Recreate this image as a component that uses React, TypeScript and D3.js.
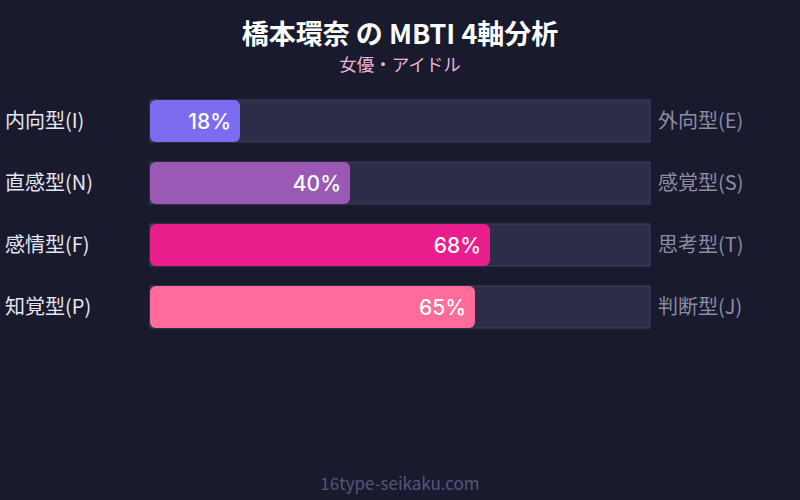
import React, { useEffect, useRef } from "react";
import * as d3 from "d3";

const leftLabels = ["内向型(I)", "直感型(N)", "感情型(F)", "知覚型(P)"];
const rightLabels = ["外向型(E)", "感覚型(S)", "思考型(T)", "判断型(J)"];
const values = [18, 40, 68, 65];
const barColors = ["#7b6cf0", "#9b59b6", "#e91e8c", "#ff6b9a"];

const width = 800;
const height = 500;
const font = "'Noto Sans CJK JP', sans-serif";
const numFont = "Inter, sans-serif";

const App: React.FC = () => {
  const svgRef = useRef<SVGSVGElement | null>(null);

  useEffect(() => {
    const svg = d3.select(svgRef.current);
    svg.selectAll("*").remove();

    svg
      .append("rect")
      .attr("width", width)
      .attr("height", height)
      .attr("fill", "#1a1a2e");

    svg
      .append("text")
      .attr("x", width / 2)
      .attr("y", 44)
      .attr("text-anchor", "middle")
      .attr("fill", "#ffffff")
      .attr("font-size", 27)
      .attr("font-weight", "bold")
      .attr("font-family", font)
      .text("橋本環奈 の MBTI 4軸分析");

    svg
      .append("text")
      .attr("x", width / 2)
      .attr("y", 71)
      .attr("text-anchor", "middle")
      .attr("fill", "#e8b4d8")
      .attr("font-size", 17.5)
      .attr("font-family", font)
      .text("女優・アイドル");

    const x = d3.scaleLinear().domain([0, 100]).range([150, 650]);
    const y = d3
      .scaleBand()
      .domain(leftLabels)
      .range([100, 328])
      .paddingInner(20 / 62)
      .paddingOuter(0);

    const rows = svg
      .selectAll(".row")
      .data(leftLabels)
      .enter()
      .append("g")
      .attr("class", "row");

    // track
    rows
      .append("rect")
      .attr("x", x(0))
      .attr("y", (d) => y(d) as number)
      .attr("width", x(100) - x(0))
      .attr("height", y.bandwidth())
      .attr("fill", "#2d2d4a")
      .attr("stroke", "#40405e")
      .attr("stroke-width", 1);

    // value bar
    rows
      .append("rect")
      .attr("x", x(0))
      .attr("y", (d) => y(d) as number)
      .attr("width", (d, i) => x(values[i]) - x(0))
      .attr("height", y.bandwidth())
      .attr("rx", 6)
      .attr("fill", (d, i) => barColors[i]);

    rows
      .append("text")
      .attr("x", (d, i) => x(values[i]) - 9)
      .attr("y", (d) => (y(d) as number) + y.bandwidth() / 2)
      .attr("dy", "0.36em")
      .attr("text-anchor", "end")
      .attr("fill", "#ffffff")
      .attr("font-size", 21)
      .attr("font-weight", 500)
      .attr("font-family", numFont)
      .text((d, i) => `${values[i]}%`);

    rows
      .append("text")
      .attr("x", 5)
      .attr("y", (d) => (y(d) as number) + y.bandwidth() / 2)
      .attr("dy", "0.36em")
      .attr("fill", "#e6e6f0")
      .attr("font-size", 20)
      .attr("font-family", font)
      .text((d) => d);

    rows
      .append("text")
      .attr("x", 658)
      .attr("y", (d) => (y(d) as number) + y.bandwidth() / 2)
      .attr("dy", "0.36em")
      .attr("fill", "#8c8ca3")
      .attr("font-size", 20)
      .attr("font-family", font)
      .text((d, i) => rightLabels[i]);

    svg
      .append("text")
      .attr("x", width / 2)
      .attr("y", 490)
      .attr("text-anchor", "middle")
      .attr("fill", "#55557a")
      .attr("font-size", 17)
      .attr("font-family", font)
      .text("16type-seikaku.com");
  }, []);

  return (
    <svg
      ref={svgRef}
      width={width}
      height={height}
      style={{ position: "absolute", left: 0, top: 0 }}
    ></svg>
  );
};

export default App;
